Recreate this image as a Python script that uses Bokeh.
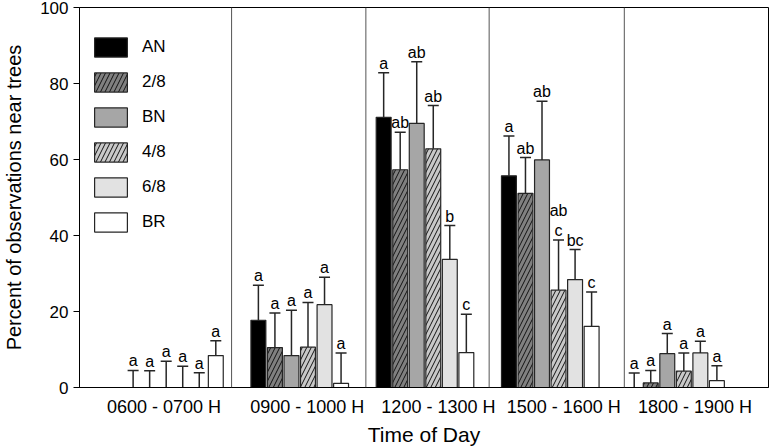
from bokeh.plotting import figure
from bokeh.models import (ColumnDataSource, Whisker, TeeHead, Span, FixedTicker,
                          Legend, LegendItem, CustomJSTickFormatter)
from bokeh.embed import file_html
from bokeh.resources import INLINE
from bokeh.core.properties import value

# ---------------- data ----------------
groups = ["0600 - 0700 H", "0900 - 1000 H", "1200 - 1300 H", "1500 - 1600 H", "1800 - 1900 H"]
series = ["AN", "2/8", "BN", "4/8", "6/8", "BR"]

mean_AN = [0.0, 17.7, 71.1, 55.7, 0.0]
mean_28 = [0.0, 10.5, 57.3, 51.1, 1.2]
mean_BN = [0.0, 8.4, 69.5, 59.9, 8.9]
mean_48 = [0.0, 10.6, 62.8, 25.6, 4.3]
mean_68 = [0.0, 21.8, 33.7, 28.4, 9.1]
mean_BR = [8.4, 1.1, 9.2, 16.1, 1.8]

err_AN = [4.5, 9.2, 11.7, 10.5, 3.8]
err_28 = [4.4, 9.1, 9.9, 9.4, 3.3]
err_BN = [6.9, 11.9, 16.2, 15.4, 5.3]
err_48 = [5.6, 11.8, 11.4, 13.2, 4.8]
err_68 = [3.9, 7.2, 8.9, 7.9, 3.1]
err_BR = [3.9, 8.0, 10.1, 9.0, 3.9]

let_AN = ["a", "a", "a", "a", "a"]
let_28 = ["a", "a", "ab", "ab", "a"]
let_BN = ["a", "a", "ab", "ab", "a"]
let_48 = ["a", "a", "ab", "ab\nc", "a"]
let_68 = ["a", "a", "b", "bc", "a"]
let_BR = ["a", "a", "c", "c", "a"]

y_ticks = [0, 20, 40, 60, 80, 100]

means = [mean_AN, mean_28, mean_BN, mean_48, mean_68, mean_BR]
errs = [err_AN, err_28, err_BN, err_48, err_68, err_BR]
letters = [let_AN, let_28, let_BN, let_48, let_68, let_BR]

# ---------------- style ----------------
FONT = "Liberation Sans"
fills = ["#000000", "#808080", "#a6a6a6", "#c8c8c8", "#e2e2e2", "#ffffff"]
hatches = [" ", "/", " ", "/", " ", " "]
slot = 0.132
bar_w = 0.119
label_pos = [-0.083, 1.06, 2.107, 3.107, 4.155]
dividers = [0.456, 1.528, 2.512, 3.591]

p = figure(width=770, height=448, x_range=(-0.758, 4.742), y_range=(0, 100),
           output_backend="svg", toolbar_location=None,
           min_border_left=75, min_border_right=2, min_border_top=7, min_border_bottom=58)
p.background_fill_color = "white"
p.border_fill_color = "white"
p.outline_line_color = "black"
p.outline_line_width = 1
p.xgrid.visible = False
p.ygrid.visible = False

for d in dividers:
    p.add_layout(Span(location=d, dimension="height", line_color="#555555", line_width=1))

items = []
for i, name in enumerate(series):
    xs = [g + (i - 2.5) * slot for g in range(len(groups))]
    tops = [m + e for m, e in zip(means[i], errs[i])]
    src = ColumnDataSource(dict(x=xs, top=means[i], upper=tops, lab=letters[i]))
    r = p.vbar(x="x", top="top", bottom=0, width=bar_w, source=src,
               fill_color=fills[i], line_color="#262626", line_width=1.2,
               hatch_pattern=hatches[i], hatch_color="#111111", hatch_weight=1, hatch_scale=9)
    items.append(LegendItem(label=name, renderers=[r]))
    w = Whisker(base="x", upper="upper", lower="top", source=src, dimension="height",
                line_color="#262626", line_width=1.5,
                upper_head=TeeHead(size=11, line_color="#262626", line_width=1.5),
                lower_head=None)
    p.add_layout(w)
    p.text(x="x", y="upper", text="lab", source=src, text_align="center",
           text_baseline="bottom", y_offset=-1, text_font=value(FONT),
           text_font_size="16px", text_color="black", text_line_height=1.2)

legend = Legend(items=items, location=(11, 153), glyph_width=41, glyph_height=24,
                spacing=11, padding=0, margin=0, label_standoff=11,
                border_line_color=None, background_fill_alpha=0,
                label_text_font=FONT, label_text_font_size="17px", label_text_color="black")
p.add_layout(legend)

# y axis
p.yaxis.ticker = FixedTicker(ticks=y_ticks)
p.yaxis.minor_tick_line_color = None
p.yaxis.major_tick_out = 6
p.yaxis.major_tick_in = 0
p.yaxis.major_label_standoff = 5
p.yaxis.axis_line_color = "black"
p.yaxis.major_tick_line_color = "black"
p.yaxis.major_label_text_font = FONT
p.yaxis.major_label_text_font_size = "17px"
p.yaxis.major_label_text_color = "black"
p.yaxis.axis_label = "Percent of observations near trees"
p.yaxis.axis_label_text_font = FONT
p.yaxis.axis_label_text_font_size = "20px"
p.yaxis.axis_label_text_font_style = "normal"
p.yaxis.axis_label_text_color = "black"
p.yaxis.axis_label_standoff = 12

# x axis
p.xaxis.ticker = FixedTicker(ticks=label_pos)
p.xaxis.formatter = CustomJSTickFormatter(args=dict(labels=groups), code="return labels[index];")
p.xaxis.minor_tick_line_color = None
p.xaxis.major_tick_line_color = None
p.xaxis.major_tick_out = 0
p.xaxis.major_tick_in = 0
p.xaxis.major_label_standoff = 9
p.xaxis.axis_line_color = "black"
p.xaxis.major_label_text_font = FONT
p.xaxis.major_label_text_font_size = "18px"
p.xaxis.major_label_text_color = "black"
p.xaxis.axis_label = "Time of Day"
p.xaxis.axis_label_text_font = FONT
p.xaxis.axis_label_text_font_size = "21px"
p.xaxis.axis_label_text_font_style = "normal"
p.xaxis.axis_label_text_color = "black"
p.xaxis.axis_label_standoff = 3

open("out.html", "w").write(file_html(p, INLINE))
